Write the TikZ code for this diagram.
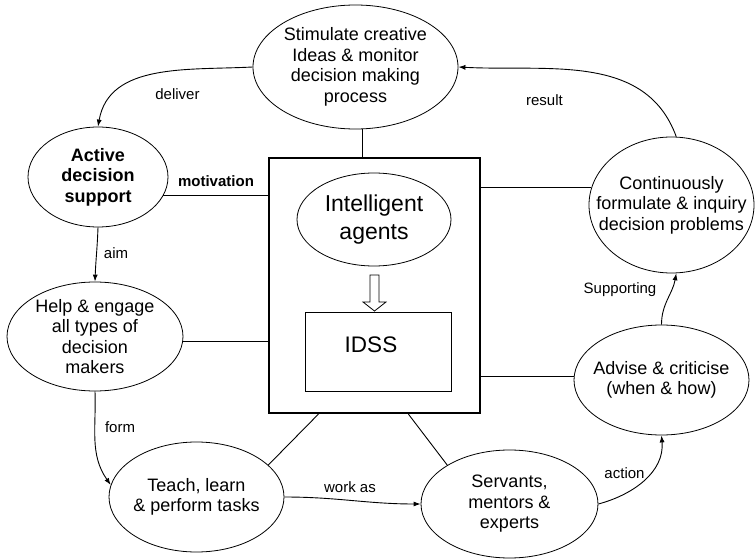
\documentclass[tikz,border=0pt]{standalone}
\usepackage{fontspec}
\setmainfont{Liberation Sans}
\usetikzlibrary{shapes.geometric,arrows.meta,calc}
\tikzset{
  bubble/.style={draw, ellipse, line width=0.8pt, inner sep=-40pt, align=center,
    font=\fontsize{18}{20.5}\selectfont},
  lbl/.style={font=\fontsize{15}{17}\selectfont, inner sep=0pt},
  link/.style={line width=0.9pt},
  flow/.style={line width=0.9pt, -{Latex[length=7pt,width=5pt]}}
}
\begin{document}
\begin{tikzpicture}[x=1pt,y=1pt]
\useasboundingbox (0,0) rectangle (756,-559);

% central frame with the agents and the IDSS
\node[draw, line width=2.2pt, minimum width=211pt, minimum height=255pt, inner sep=0pt] (box) at (374.5,-285.5) {};
\node[bubble, minimum width=154pt, minimum height=93pt,
      font=\fontsize{23}{27.5}\selectfont] (ia) at (374,-219.5) {Intelligent\\agents};
\node[draw, line width=0.8pt, minimum width=146pt, minimum height=79pt, inner sep=0pt] (idss) at (378,-351.5) {};
\node[font=\fontsize{22.5}{26}\selectfont, inner sep=0pt] (idsst) at (371,-345) {IDSS};
% hollow arrow from the agents to the IDSS
\draw[line width=0.8pt] (370,-275) -- (379,-275) -- (379,-302) -- (386,-302)
  -- (374.5,-311) -- (363,-302) -- (370,-302) -- cycle;

% surrounding activities
\node[bubble, minimum width=205pt, minimum height=124pt] (top) at (355.5,-67)
  {Stimulate creative\\Ideas \& monitor\\decision making\\process};
\node[bubble, minimum width=140pt, minimum height=100pt, font=\fontsize{18}{20.5}\selectfont\bfseries] (ads) at (98,-177)
  {Active\\decision\\support};
\node[bubble, minimum width=176pt, minimum height=109pt] (help) at (95,-336.5)
  {Help \& engage\\all types of\\decision\\makers};
\node[bubble, minimum width=175pt, minimum height=110pt] (teach) at (196.5,-497)
  {Teach, learn\\\& perform tasks};
\node[bubble, minimum width=177pt, minimum height=108pt] (serv) at (509.5,-504)
  {Servants,\\mentors \&\\experts};
\node[bubble, minimum width=175pt, minimum height=110pt] (adv) at (661.5,-380)
  {Advise \& criticise\\(when \& how)};
\node[bubble, minimum width=165pt, minimum height=136pt] (cont) at (671.5,-205)
  {Continuously\\formulate \& inquiry\\decision problems};

% plain links to the central frame
\draw[link] (top.-84) -- (top.-84 |- box.north);
\draw[link] (ads.-16) -- (ads.-16 -| box.west);
\draw[link] (help.-3) -- (help.-3 -| box.west);
\draw[link] (teach.24) -- ($(box.south west)!0.237!(box.south east)$);
\draw[link] (serv.148) -- ($(box.south west)!0.659!(box.south east)$);
\draw[link] (adv.178) -- (adv.178 -| box.east);
\draw[link] (cont.168) -- (cont.168 -| box.east);

% directed cycle
\draw[flow] (top.west) to[out=183,in=80] (ads.north);
\draw[flow] (ads.south) to[out=-92,in=88] (help.north);
\draw[flow] (help.south) to[out=-88,in=125] (teach.172);
\draw[flow] (teach.east) to[out=0,in=180] (serv.west);
\draw[flow] (serv.east) to[out=15,in=-85] (adv.south);
\draw[flow] (adv.north) to[out=90,in=-100] (cont.-86);
\draw[flow] (cont.86) to[out=110,in=-3] (top.east);

% edge labels
\node[lbl] (l-deliver) at (177.5,-94) {deliver};
\node[lbl, font=\fontsize{15}{17}\selectfont\bfseries] (l-motiv) at (216,-181.5) {motivation};
\node[lbl] (l-aim) at (116,-253.5) {aim};
\node[lbl] (l-form) at (120,-427.5) {form};
\node[lbl] (l-work) at (350,-487.5) {work as};
\node[lbl] (l-action) at (624.5,-473) {action};
\node[lbl] (l-supp) at (620,-290) {Supporting};
\node[lbl] (l-result) at (544.5,-100.5) {result};
\end{tikzpicture}
\end{document}
